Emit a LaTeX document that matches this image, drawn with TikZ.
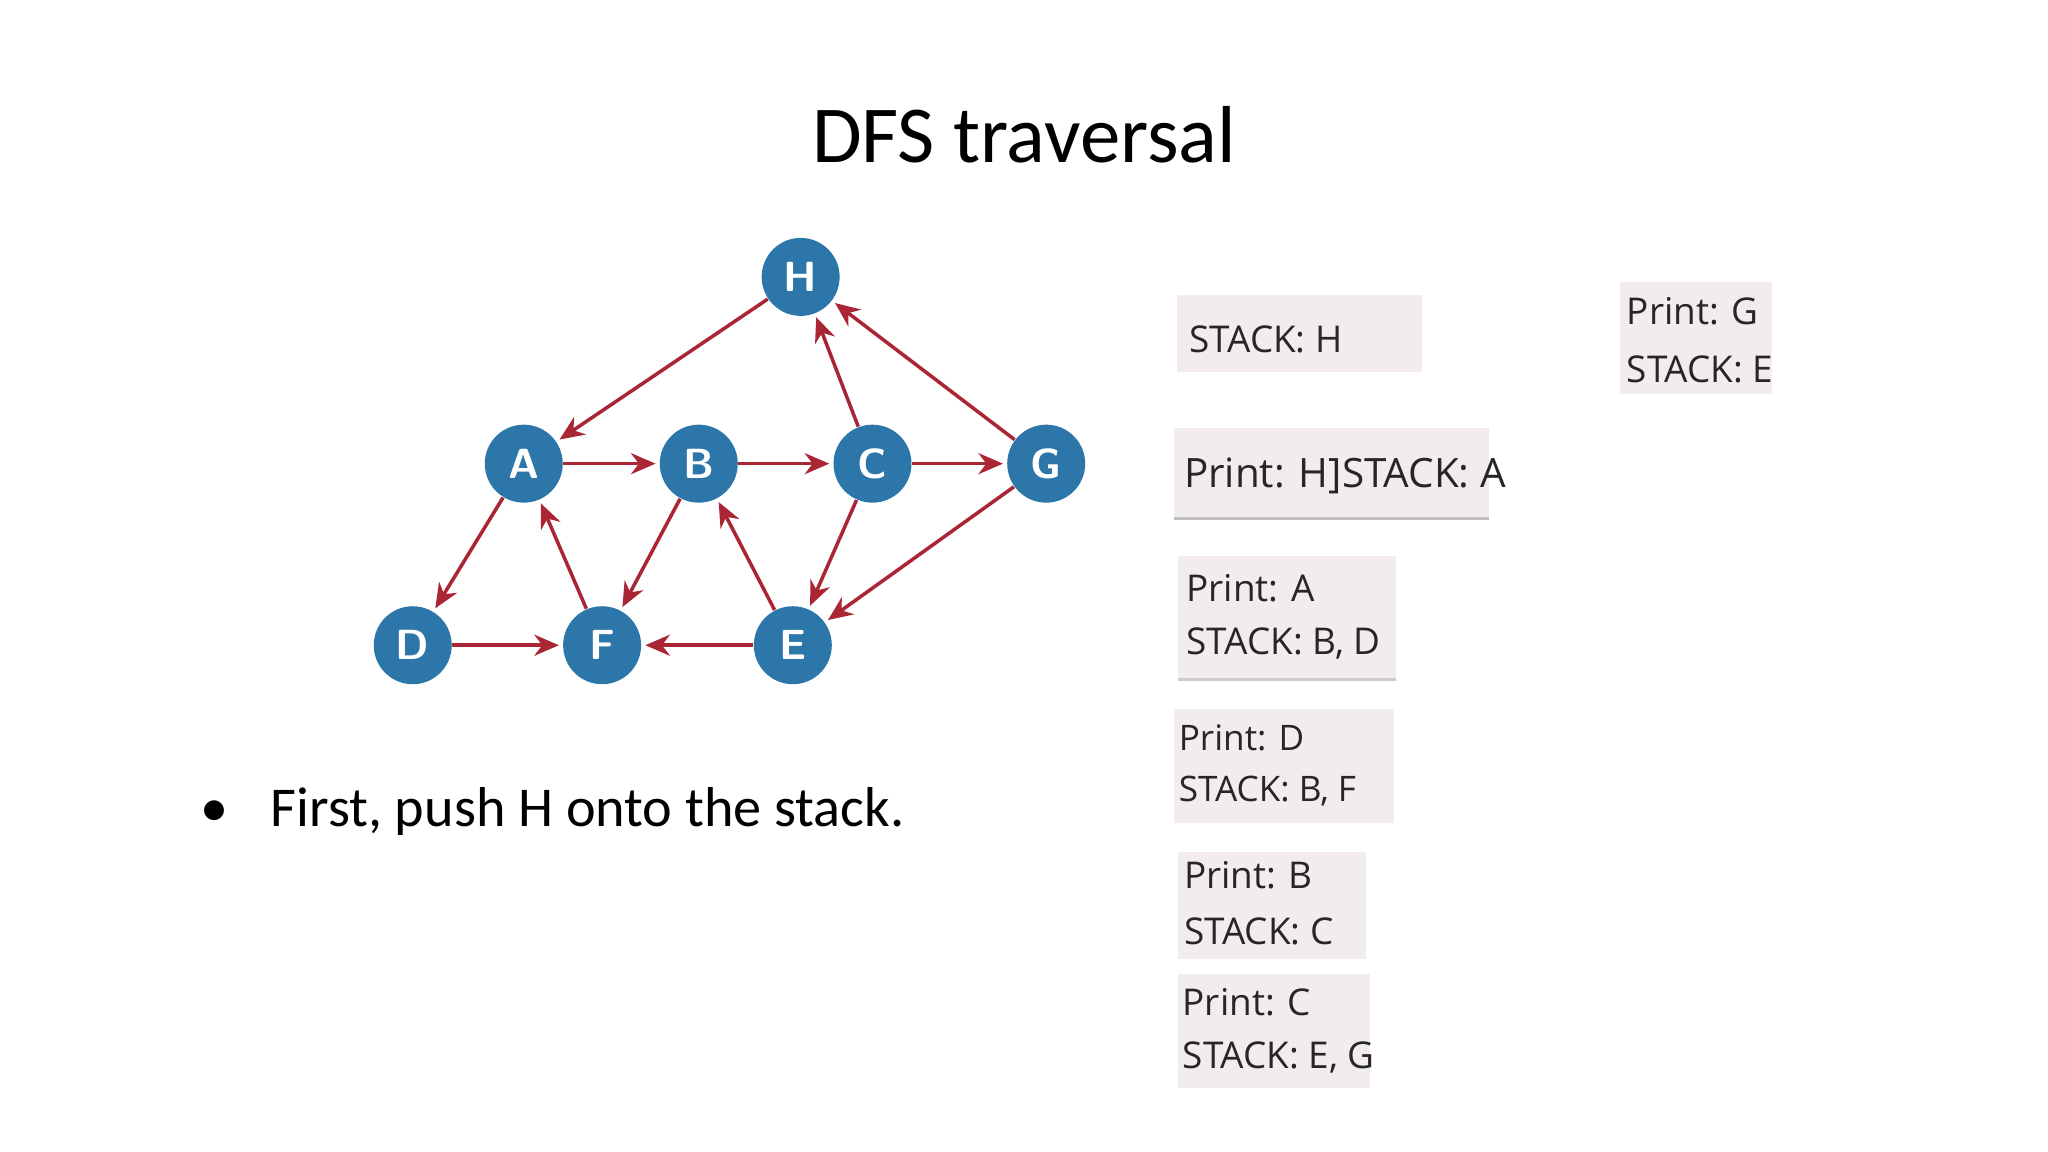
\documentclass[tikz,border=0pt]{standalone}
\usepackage{fontspec}
\setmainfont{Carlito}
\newfontfamily\boxfont{Open Sans}
\usetikzlibrary{arrows.meta}
\definecolor{nodeblue}{RGB}{44,118,170}
\definecolor{edgered}{RGB}{170,38,52}
\definecolor{boxfill}{RGB}{243,236,236}
\tikzset{
  vert/.style={circle,fill=nodeblue,minimum size=0.78cm,inner sep=0pt,text=white,font=\sffamily\bfseries\fontsize{12}{12}\selectfont},
  edge/.style={draw=edgered,line width=1pt,-{Stealth[length=7pt,width=6pt]},shorten >=1pt},
  sbox/.style={fill=boxfill},
  btext/.style={anchor=west,inner sep=0pt,font=\boxfont\fontsize{10.5}{12}\selectfont,text=black!85}
}
\begin{document}
\begin{tikzpicture}[x=0.01306cm,y=-0.01306cm]
\useasboundingbox (0,0) rectangle (1568,882);
\node[font=\fontsize{23}{26}\selectfont] (title) at (784,103) {DFS traversal};
% graph
\node[vert] (H) at (613,212) {H};
\node[vert] (A) at (401,355) {A};
\node[vert] (B) at (535,355) {B};
\node[vert] (C) at (668,355) {C};
\node[vert] (G) at (801,355) {G};
\node[vert] (D) at (316,494) {D};
\node[vert] (F) at (461,494) {F};
\node[vert] (E) at (607,494) {E};
\draw[edge] (H) -- (A);
\draw[edge] (C) -- (H);
\draw[edge] (G) -- (H);
\draw[edge] (A) -- (B);
\draw[edge] (B) -- (C);
\draw[edge] (C) -- (G);
\draw[edge] (A) -- (D);
\draw[edge] (F) -- (A);
\draw[edge] (B) -- (F);
\draw[edge] (E) -- (B);
\draw[edge] (C) -- (E);
\draw[edge] (G) -- (E);
\draw[edge] (D) -- (F);
\draw[edge] (E) -- (F);
% bullet
\node[anchor=base west,inner sep=0pt,font=\fontsize{16}{19}\selectfont] (bul) at (153,633) {\textbullet\hspace{0.75em}First, push H onto the stack.};
% boxes
\fill[sbox] (901,226) rectangle (1089,285);
\node[btext] (b1) at (910,260) {STACK: H};
\fill[sbox] (899,328) rectangle (1140,398);
\draw[black!25,line width=1pt] (899,397) -- (1140,397);
\node[btext,font=\boxfont\fontsize{11.5}{13}\selectfont] (b2) at (906,364) {Print: H]STACK: A};
\fill[sbox] (902,426) rectangle (1069,521);
\draw[black!20,line width=0.8pt] (902,520.5) -- (1069,520.5);
\node[btext] (b3a) at (908,450) {Print: A};
\node[btext] (b3b) at (908,493) {STACK: B, D};
\fill[sbox] (899,543) rectangle (1067,630);
\node[btext,font=\boxfont\fontsize{10}{12}\selectfont] (b4a) at (902,565) {Print: D};
\node[btext,font=\boxfont\fontsize{10}{12}\selectfont] (b4b) at (902,606) {STACK: B, F};
\fill[sbox] (902,652) rectangle (1046,734);
\node[btext] (b5a) at (906,670) {Print: B};
\node[btext] (b5b) at (906,713) {STACK: C};
\fill[sbox] (902,746) rectangle (1049,833);
\node[btext] (b6a) at (905,767) {Print: C};
\node[btext] (b6b) at (905,810) {STACK: E, G};
\fill[sbox] (1240,216) rectangle (1357,302);
\node[btext] (b7a) at (1245,238) {Print: G};
\node[btext] (b7b) at (1245,283) {STACK: E};
\end{tikzpicture}
\end{document}
